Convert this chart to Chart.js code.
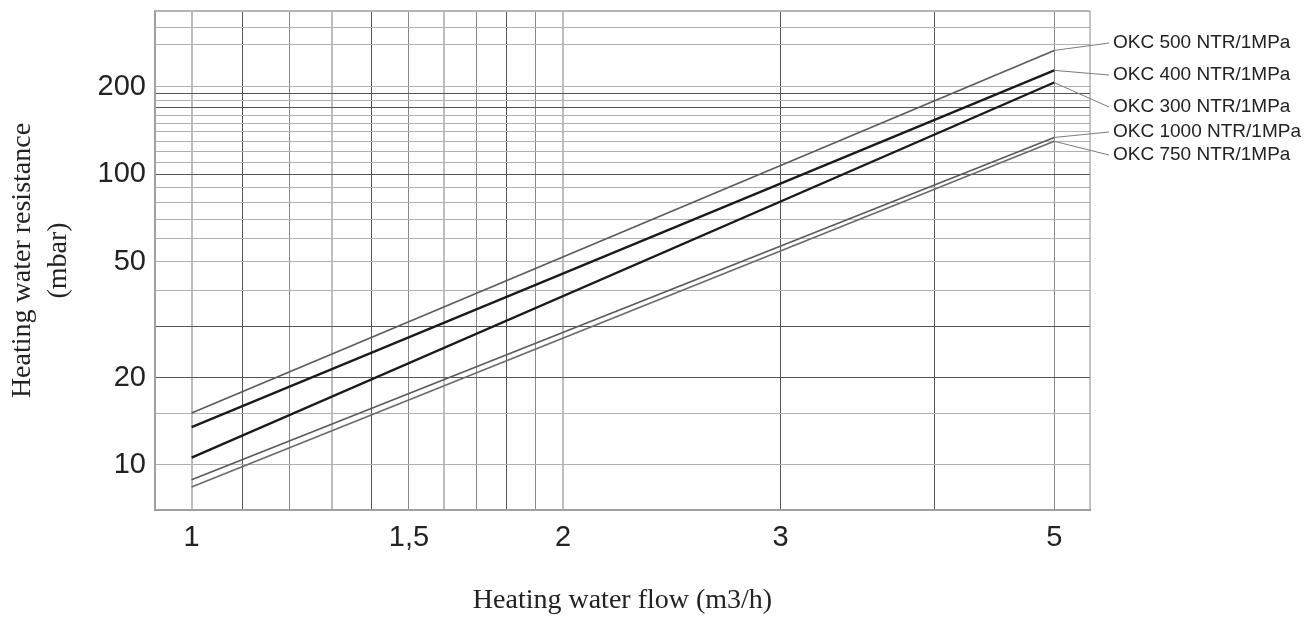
<!DOCTYPE html>
<html>
<head>
<meta charset="utf-8">
<script src="https://cdn.jsdelivr.net/npm/chart.js@4.4.1/dist/chart.umd.min.js"></script>
<style>
  html, body { margin: 0; padding: 0; background: #ffffff; }
  #wrap { width: 1306px; height: 617px; }
</style>
</head>
<body>
<div id="wrap"><canvas id="c" width="1306" height="617"></canvas></div>
<script>
// ---- data ----
const seriesNames = ['OKC 500 NTR/1MPa', 'OKC 400 NTR/1MPa', 'OKC 300 NTR/1MPa', 'OKC 1000 NTR/1MPa', 'OKC 750 NTR/1MPa'];
const flowValues = [1, 5];               // m3/h
const okc500 = [15.1, 267];              // mbar
const okc400 = [13.5, 228];
const okc300 = [10.6, 207];
const okc1000 = [8.9, 134];
const okc750 = [8.4, 130];
const seriesValues = [okc500, okc400, okc300, okc1000, okc750];

const xGridValues = [1, 1.1, 1.2, 1.3, 1.4, 1.5, 1.6, 1.7, 1.8, 1.9, 2, 3, 4, 5];
const xTickLabels = { '1': '1', '1.5': '1,5', '2': '2', '3': '3', '5': '5' };
const yGridValues = [10, 15, 20, 30, 40, 50, 60, 70, 80, 90, 100, 110, 120, 130, 140, 150, 160, 170, 180, 190, 200, 280, 320];
const yTickLabels = [10, 20, 50, 100, 200];

// ---- styling ----
const lineColors = ['#5a5a5a', '#1a1a1a', '#1a1a1a', '#5a5a5a', '#6a6a6a'];
const lineWidths = [1.6, 2.2, 2.2, 1.6, 1.6];
const labelY = [43, 75, 107, 132, 155];
const xDark = [1.1, 1.4, 1.8, 3, 4];
const xLight = [1, 1.3, 1.6, 2];
const yDark = [20, 30, 100, 170, 190];

const datasets = seriesNames.map((name, i) => ({
  label: name,
  data: flowValues.map((x, j) => ({ x: x, y: seriesValues[i][j] })),
  borderColor: lineColors[i],
  borderWidth: lineWidths[i],
  pointRadius: 0,
  tension: 0,
  fill: false
}));

const framePlugin = {
  id: 'frame',
  beforeDatasetsDraw(chart) {
    const { ctx, chartArea: a } = chart;
    ctx.save();
    ctx.strokeStyle = '#b5b5b5';
    ctx.lineWidth = 2;
    ctx.beginPath();
    ctx.moveTo(a.left, a.top); ctx.lineTo(a.right, a.top);
    ctx.stroke();
    ctx.strokeStyle = '#8a8a8a';
    ctx.lineWidth = 1;
    ctx.beginPath();
    ctx.moveTo(a.right, a.top); ctx.lineTo(a.right, a.bottom);
    ctx.stroke();
    ctx.restore();
  }
};

const endLabelPlugin = {
  id: 'endLabels',
  afterDatasetsDraw(chart, args, opts) {
    const { ctx, chartArea: a } = chart;
    ctx.save();
    ctx.font = '19px "Liberation Sans", Arial, sans-serif';
    ctx.textAlign = 'left';
    ctx.textBaseline = 'middle';
    chart.data.datasets.forEach((ds, i) => {
      const meta = chart.getDatasetMeta(i);
      const last = meta.data[meta.data.length - 1];
      const tx = a.right + opts.gap;
      const ty = opts.y[i];
      ctx.strokeStyle = '#7a7a7a';
      ctx.lineWidth = 1;
      ctx.beginPath();
      ctx.moveTo(last.x, last.y);
      ctx.lineTo(tx - 4, ty);
      ctx.stroke();
      ctx.fillStyle = '#222';
      ctx.fillText(ds.label, tx, ty);
    });
    ctx.restore();
  }
};

function noEdgePadding(s) {
  s.paddingTop = 0; s.paddingBottom = 0; s.paddingLeft = 0; s.paddingRight = 0;
}

new Chart(document.getElementById('c'), {
  type: 'line',
  data: { datasets },
  plugins: [framePlugin, endLabelPlugin],
  options: {
    responsive: false,
    animation: false,
    layout: { padding: { top: 11, right: 216, bottom: 0, left: 0 } },
    plugins: {
      legend: { display: false },
      tooltip: { enabled: false },
      endLabels: { gap: 23, y: labelY }
    },
    scales: {
      x: {
        type: 'logarithmic',
        min: 0.934,
        max: 5.345,
        afterBuildTicks: (s) => { s.ticks = xGridValues.map(v => ({ value: v })); },
        afterFit: (s) => { s.height = 107; noEdgePadding(s); },
        ticks: {
          autoSkip: false, maxRotation: 0, minRotation: 0, padding: 11,
          color: '#222',
          font: { family: '"Liberation Sans", Arial, sans-serif', size: 29 },
          callback: (v) => (xTickLabels[String(v)] !== undefined ? xTickLabels[String(v)] : '')
        },
        grid: {
          drawTicks: false,
          color: (c) => {
            const v = c.tick ? c.tick.value : null;
            if (xDark.includes(v)) return '#555';
            if (xLight.includes(v)) return '#bdbdbd';
            return '#8a8a8a';
          },
          lineWidth: (c) => {
            const v = c.tick ? c.tick.value : null;
            return xLight.includes(v) ? 2 : 1;
          }
        },
        border: { display: true, color: '#a0a0a0', width: 2 },
        title: {
          display: true,
          text: 'Heating water flow (m3/h)',
          color: '#222',
          font: { family: '"Liberation Serif", "Times New Roman", serif', size: 28 },
          padding: { top: 0, bottom: 0 }
        }
      },
      y: {
        type: 'logarithmic',
        min: 7.0,
        max: 365,
        afterBuildTicks: (s) => { s.ticks = yGridValues.map(v => ({ value: v })); },
        afterFit: (s) => { s.width = 155; noEdgePadding(s); },
        ticks: {
          autoSkip: false, padding: 9,
          color: '#222',
          font: { family: '"Liberation Sans", Arial, sans-serif', size: 29 },
          callback: (v) => (yTickLabels.includes(v) ? String(v) : '')
        },
        grid: {
          drawTicks: false,
          color: (c) => {
            const v = c.tick ? c.tick.value : null;
            return yDark.includes(v) ? '#555' : '#b0b0b0';
          },
          lineWidth: 1
        },
        border: { display: true, color: '#a0a0a0', width: 2 },
        title: {
          display: true,
          text: ['Heating water resistance', '(mbar)'],
          color: '#222',
          font: { family: '"Liberation Serif", "Times New Roman", serif', size: 28, lineHeight: 1.3 },
          padding: { top: 4, bottom: 0 }
        }
      }
    }
  }
});
</script>
</body>
</html>
